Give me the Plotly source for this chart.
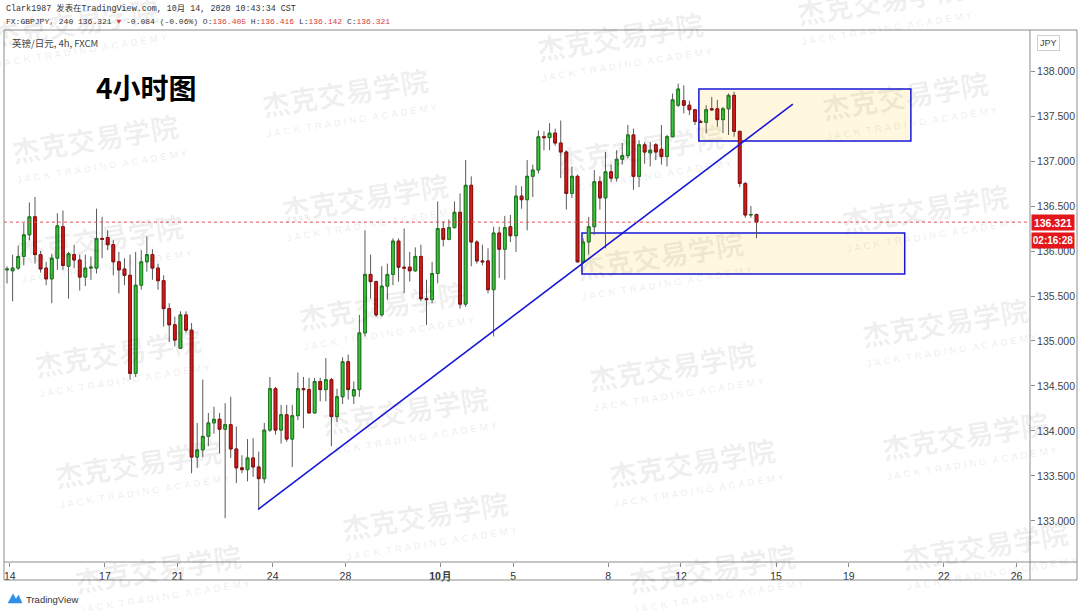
import plotly.graph_objects as go

# ---------------- data ----------------
opens = [135.79,135.78,135.81,135.94,136.18,136.38,135.96,135.81,135.69,135.92,
         136.27,135.83,135.96,135.90,135.71,135.81,135.81,136.14,136.15,136.07,
         135.88,135.80,135.73,134.64,135.62,135.88,135.96,135.81,135.67,135.36,
         135.18,134.92,135.29,135.12,133.71,133.79,133.94,134.09,134.13,134.02,
         134.07,133.80,133.59,133.57,133.70,133.60,133.47,134.01,134.47,134.01,
         134.18,133.91,134.17,134.47,134.46,134.20,134.55,134.46,134.57,134.16,
         134.38,134.77,134.39,134.46,135.09,135.74,135.66,135.29,135.61,135.74,
         136.11,135.82,135.82,135.78,135.94,135.47,135.46,135.75,136.25,136.13,
         136.26,136.43,135.41,136.73,136.10,135.89,135.89,135.57,136.20,136.02,
         136.27,136.17,136.61,136.57,136.83,136.90,137.27,137.26,137.31,137.20,
         137.10,136.64,136.83,135.88,136.10,136.27,136.77,136.59,136.88,136.81,
         137.02,137.06,137.29,136.83,137.18,137.09,137.18,137.13,137.05,137.27,
         137.62,137.67,137.62,137.57,137.44,137.43,137.58,137.58,137.46,137.58,
         137.73,137.33,136.75,136.40,136.405]
highs = [135.83,135.96,136.06,136.31,136.54,136.60,136.00,135.88,135.97,136.42,
         136.45,135.99,136.07,135.96,135.96,135.94,136.47,136.38,136.23,136.12,
         135.99,135.92,135.96,135.99,136.01,136.16,136.02,135.86,135.73,135.42,
         135.27,135.33,135.33,135.20,134.09,134.57,134.20,134.27,134.20,134.31,
         134.38,134.05,133.73,133.91,133.92,133.77,134.09,134.60,134.49,134.29,
         134.29,134.29,134.65,134.60,134.59,134.59,134.59,134.81,134.59,134.47,
         134.82,134.85,134.55,135.29,136.23,135.96,135.67,135.83,135.86,136.14,
         136.14,136.25,135.99,136.04,136.07,135.68,135.88,136.55,136.33,136.35,
         136.55,136.64,137.01,136.83,136.12,136.07,136.03,136.27,136.27,136.39,
         136.40,136.73,136.72,137.01,136.96,137.34,137.33,137.42,137.36,137.45,
         137.12,136.94,136.85,136.14,136.38,136.90,136.83,137.10,136.96,137.12,
         137.20,137.40,137.36,137.23,137.21,137.21,137.20,137.40,137.29,137.75,
         137.86,137.84,137.67,137.57,137.46,137.62,137.71,137.68,137.60,137.75,
         137.77,137.33,136.77,136.50,136.416]
lows = [135.64,135.44,135.79,135.84,136.12,135.86,135.76,135.62,135.42,135.79,
        135.79,135.47,135.81,135.56,135.61,135.68,135.75,135.92,136.01,135.73,
        135.53,135.62,134.57,134.60,135.57,135.77,135.68,135.57,135.16,134.99,
        134.94,134.91,135.09,133.53,133.59,133.71,133.83,133.97,133.75,133.03,
        133.70,133.42,133.53,133.44,133.49,133.12,133.42,133.99,133.96,133.86,
        133.88,133.60,134.12,134.03,134.20,134.20,134.33,134.33,133.83,134.10,
        134.30,134.35,134.30,134.38,135.05,135.47,135.27,135.27,135.46,135.62,
        135.66,135.53,135.66,135.77,135.44,135.18,135.42,135.64,136.05,136.12,
        136.25,135.36,135.38,135.83,135.86,135.84,135.53,135.05,135.70,135.68,
        136.10,135.99,136.47,136.23,136.60,136.86,137.12,137.12,137.17,136.81,
        136.46,136.59,135.87,135.86,135.96,136.18,136.46,136.03,136.77,136.77,
        136.96,137.03,136.68,136.71,136.97,136.94,137.01,136.96,136.94,137.27,
        137.60,137.53,137.51,137.40,137.42,137.31,137.56,137.38,137.31,137.29,
        137.27,136.71,136.37,136.37,136.142]
closes = [135.80,135.81,135.94,136.18,136.38,135.96,135.80,135.69,135.92,136.28,
          135.84,135.97,135.90,135.71,135.81,135.82,136.14,136.13,136.07,135.88,
          135.79,135.73,134.64,135.62,135.88,135.96,135.81,135.67,135.36,135.18,
          135.01,135.29,135.12,133.71,133.79,133.94,134.09,134.13,134.02,134.07,
          133.80,133.59,133.57,133.70,133.60,133.47,134.01,134.47,134.01,134.18,
          133.91,134.17,134.47,134.46,134.20,134.55,134.46,134.57,134.16,134.38,
          134.77,134.46,134.46,135.09,135.74,135.66,135.29,135.61,135.74,136.11,
          135.82,135.81,135.78,135.94,135.47,135.46,135.75,136.25,136.13,136.26,
          136.43,135.41,136.73,136.10,135.89,135.88,135.57,136.20,136.02,136.26,
          136.17,136.61,136.57,136.83,136.90,137.27,137.26,137.31,137.20,137.10,
          136.64,136.83,135.88,136.10,136.27,136.77,136.59,136.88,136.81,137.02,
          137.06,137.29,136.83,137.18,137.10,137.12,137.10,137.05,137.27,137.68,
          137.80,137.62,137.57,137.44,137.43,137.57,137.57,137.46,137.58,137.73,
          137.33,136.75,136.40,136.405,136.321]

day_tick_index = [0, 17, 30, 47, 60, 77, 90, 107, 120, 137, 150, 167, 180]
day_tick_text = ["14", "17", "21", "24", "28", "<b>10月</b>", "5", "8", "12", "15", "19", "22", "26"]

last_price = 136.321
countdown = "02:16:28"

# drawings (candle index, price)
trend_start = (44.9, 133.13)
trend_end = (140.5, 137.633)
zone_top = (123.7, 161.6, 137.222, 137.800)
zone_bottom = (102.8, 160.5, 135.744, 136.200)

# ---------------- figure ----------------
W, H = 1080, 611
L, R, T, B = 4, 1030, 30, 562


def px(x):
    return (x - L) / (R - L)


def py(y):
    return (B - y) / (B - T)


GREEN, GREEN_EDGE = "#3cc43c", "#1d7a1d"
RED, RED_EDGE = "#d41c1c", "#8e0f0f"
WICK = "#5a5a5a"
BLUE = "#1717d9"

xs = list(range(len(opens)))
body_hi = [max(o, c) for o, c in zip(opens, closes)]
body_lo = [min(o, c) for o, c in zip(opens, closes)]

fig = go.Figure()
fig.add_trace(go.Candlestick(
    x=xs, open=opens, high=highs, low=lows, close=closes,
    increasing=dict(line=dict(color=WICK, width=1), fillcolor=GREEN),
    decreasing=dict(line=dict(color=WICK, width=1), fillcolor=RED),
    whiskerwidth=0, hoverinfo="skip", showlegend=False))
fig.add_trace(go.Candlestick(
    x=xs, open=opens, high=body_hi, low=body_lo, close=closes,
    increasing=dict(line=dict(color=GREEN_EDGE, width=1), fillcolor=GREEN),
    decreasing=dict(line=dict(color=RED_EDGE, width=1), fillcolor=RED),
    whiskerwidth=0, hoverinfo="skip", showlegend=False))

shapes = []
for (x0, x1, y0, y1) in (zone_top, zone_bottom):
    shapes.append(dict(type="rect", xref="x", yref="y", x0=x0, x1=x1, y0=y0, y1=y1,
                       line=dict(color=BLUE, width=1.5),
                       fillcolor="rgba(255,236,160,0.35)", layer="below"))
shapes.append(dict(type="line", xref="x", yref="y", x0=trend_start[0], y0=trend_start[1],
                   x1=trend_end[0], y1=trend_end[1], line=dict(color=BLUE, width=1.6)))
shapes.append(dict(type="line", xref="paper", yref="y", x0=0, x1=1, y0=last_price, y1=last_price,
                   line=dict(color="#e05050", width=1, dash="dot")))
frame = "#8c8c8c"
shapes.append(dict(type="rect", xref="paper", yref="paper", x0=px(4), x1=px(1077),
                   y0=py(580), y1=py(30), line=dict(color=frame, width=1)))
shapes.append(dict(type="line", xref="paper", yref="paper", x0=px(1030), x1=px(1030),
                   y0=py(580), y1=py(30), line=dict(color=frame, width=1)))
shapes.append(dict(type="line", xref="paper", yref="paper", x0=px(4), x1=px(1077), y0=0, y1=0,
                   line=dict(color=frame, width=1)))
shapes.append(dict(type="path", xref="paper", yref="paper",
                   path=f"M {px(8)} {py(603)} L {px(13)} {py(594)} L {px(16)} {py(599)} L {px(18.5)} {py(595)} L {px(22)} {py(603)} Z",
                   fillcolor="#2f8fe8", line=dict(color="#2f8fe8", width=0.5)))

annotations = []

wm_pos = [(75, 22), (95, 138), (100, 238), (118, 352), (138, 463), (158, 568),
          (345, 92), (365, 197), (382, 305), (405, 410), (425, 515),
          (620, 36), (640, 148), (660, 255), (672, 366), (692, 462), (712, 568),
          (880, 0), (905, 95), (925, 208), (945, 322), (965, 435), (985, 545)]
for (cx, cy) in wm_pos:
    annotations.append(dict(xref="paper", yref="paper", x=px(cx), y=py(cy),
                            xanchor="center", yanchor="middle",
                            text="<b>杰克交易学院</b>", showarrow=False, textangle=-9,
                            font=dict(family="Noto Sans CJK SC", size=28, color="rgba(0,0,0,0.065)")))
    annotations.append(dict(xref="paper", yref="paper", x=px(cx + 6), y=py(cy + 28),
                            xanchor="center", yanchor="middle",
                            text="<b>J A C K  T R A D I N G  A C A D E M Y</b>", showarrow=False, textangle=-9,
                            font=dict(family="Liberation Sans", size=10, color="rgba(0,0,0,0.065)")))

mono = "Liberation Mono, Noto Sans CJK SC"
annotations.append(dict(xref="paper", yref="paper", x=px(4), y=py(9), xanchor="left", yanchor="middle",
                        text="Clark1987 发表在TradingView.com, 10月 14, 2020 10:43:34 CST",
                        showarrow=False, font=dict(family=mono, size=8.4, color="#333333")))
rc = "#e0393e"
line2 = ("FX:GBPJPY, 240 136.321 <span style='color:%s'>▼</span> -0.084 (-0.06%%) O:<span style='color:%s'>136.405</span>"
         " H:<span style='color:%s'>136.416</span> L:<span style='color:%s'>136.142</span> C:<span style='color:%s'>136.321</span>") % (rc, rc, rc, rc, rc)
annotations.append(dict(xref="paper", yref="paper", x=px(4), y=py(22), xanchor="left", yanchor="middle",
                        text=line2, showarrow=False, font=dict(family=mono, size=8.0, color="#333333")))
annotations.append(dict(xref="paper", yref="paper", x=px(10), y=py(43), xanchor="left", yanchor="middle",
                        text="英镑/日元, 4h, FXCM", showarrow=False,
                        font=dict(family="Noto Sans CJK SC", size=9.5, color="#444444")))
annotations.append(dict(xref="paper", yref="paper", x=px(94), y=py(87), xanchor="left", yanchor="middle",
                        text="<b>4小时图</b>", showarrow=False,
                        font=dict(family="Noto Sans CJK SC", size=28, color="#000000")))
annotations.append(dict(xref="paper", yref="paper", x=px(1048), y=py(43), xanchor="center", yanchor="middle",
                        text="JPY", showarrow=False, bordercolor="#cfcfcf", borderwidth=1, borderpad=2,
                        font=dict(family="Liberation Sans", size=9, color="#444444")))
annotations.append(dict(xref="paper", yref="y", x=px(1031), y=last_price, xanchor="left", yanchor="middle",
                        text="<b>136.321</b>", showarrow=False, bgcolor="#e3161b", width=40, height=13,
                        font=dict(family="Liberation Sans", size=10.5, color="white")))
annotations.append(dict(xref="paper", yref="y", x=px(1031), y=last_price, yshift=-18,
                        xanchor="left", yanchor="middle",
                        text="<b>" + countdown + "</b>", showarrow=False, bgcolor="#e3161b", width=40, height=13,
                        font=dict(family="Liberation Sans", size=10, color="white")))
annotations.append(dict(xref="paper", yref="paper", x=px(24), y=py(599), xanchor="left", yanchor="middle",
                        text="TradingView", showarrow=False,
                        font=dict(family="Liberation Sans Narrow, Liberation Sans", size=9.5, color="#333333")))

fig.update_layout(
    width=W, height=H,
    margin=dict(l=L, r=W - R, t=T, b=H - B),
    paper_bgcolor="white", plot_bgcolor="white",
    showlegend=False,
    shapes=shapes, annotations=annotations,
    xaxis=dict(range=[-0.54, 182.9], tickvals=[v + 0.5 for v in day_tick_index], ticktext=day_tick_text,
               showgrid=False, zeroline=False, showline=False, ticks="outside", ticklen=4,
               tickcolor="#8c8c8c", tickfont=dict(family="Liberation Sans Narrow, Liberation Sans", size=10.5, color="#333333"),
               rangeslider=dict(visible=False), fixedrange=True),
    yaxis=dict(side="right", range=[132.544, 138.456], tick0=133, dtick=0.5, tickformat=".3f",
               showgrid=False, zeroline=False, showline=False, ticks="outside", ticklen=4,
               tickcolor="#8c8c8c", tickfont=dict(family="Liberation Sans", size=10.5, color="#444444"),
               fixedrange=True),
)

fig.write_html("out.html", config={"displayModeBar": False},
               post_script="document.body.style.margin='0px';document.body.style.overflow='hidden';")
